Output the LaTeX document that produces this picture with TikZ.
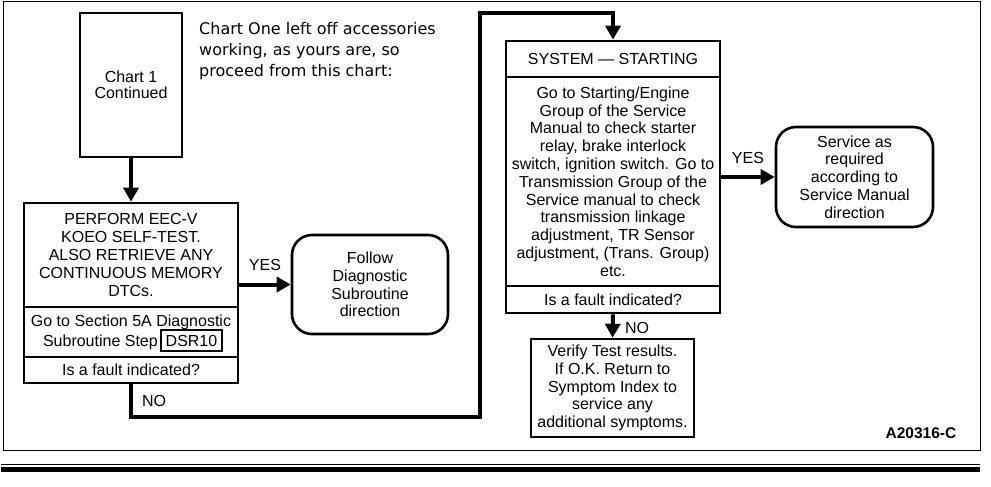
\documentclass[tikz,border=0pt]{standalone}
\usepackage{fontspec}
\setmainfont{Liberation Sans}
\newfontfamily\notefont{DejaVu Sans}
\usetikzlibrary{arrows.meta}
\tikzset{
  txt/.style={font=\fontsize{16}{17.8}\selectfont, align=center, inner sep=0pt},
  boxpart/.style={draw, line width=2.6pt, inner sep=0pt, font=\fontsize{16}{17.8}\selectfont, align=center},
  roundbox/.style={boxpart, rounded corners=20pt},
  conn/.style={line width=4pt, line join=miter, -{Triangle[length=14pt,width=15pt]}},
  lbl/.style={font=\fontsize{16}{17.8}\selectfont, inner sep=0pt}
}
\begin{document}
\begin{tikzpicture}[x=1pt,y=-1pt]
\useasboundingbox (0,0) rectangle (991,487);
% frame and bottom rules
\draw[line width=1pt] (3,2) rectangle (980,450);
\draw[line width=1pt] (1,464) -- (980,464);
\draw[line width=5.5pt] (1,469.5) -- (980,469.5);

% Chart 1
\node[boxpart, minimum width=102pt, minimum height=144pt] (chart1) at (131,85) {Chart 1\\[-1.5pt]Continued};
\node[font=\notefont\fontsize{16}{21}\selectfont, align=left, anchor=north west, inner sep=0pt] (note) at (199,22)
  {Chart One left off accessories\\working, as yours are, so\\proceed from this chart:};

% Perform box
\node[boxpart, minimum width=214pt, minimum height=104pt] (perf1) at (131,255)
  {PERFORM EEC-V\\KOEO SELF-TEST.\\ALSO RETRIEVE ANY\\CONTINUOUS MEMORY\\DTCs.};
\node[boxpart, minimum width=214pt, minimum height=50pt] (perf2) at (131,332) {};
\node[txt] (perf2a) at (131,322) {Go to Section 5A Diagnostic};
\node[txt, anchor=east] (perf2b) at (158,342) {Subroutine Step};
\node[draw, line width=2pt, minimum width=61pt, minimum height=21pt, inner sep=0pt, font=\fontsize{16}{17.8}\selectfont] (dsr) at (191.5,340.5) {DSR10};
\node[boxpart, minimum width=214pt, minimum height=26pt] (perf3) at (131,370) {Is a fault indicated?};

% Follow box
\node[roundbox, minimum width=156pt, minimum height=99pt] (follow) at (370,284.5)
  {Follow\\Diagnostic\\Subroutine\\direction};

% System box
\node[boxpart, minimum width=214pt, minimum height=36pt] (sys1) at (613,59) {SYSTEM --- STARTING};
\node[boxpart, minimum width=214pt, minimum height=209pt] (sys2) at (613,181.5)
  {Go to Starting/Engine\\Group of the Service\\Manual to check starter\\relay, brake interlock\\switch, ignition switch. Go to\\Transmission Group of the\\Service manual to check\\transmission linkage\\adjustment, TR Sensor\\adjustment, (Trans. Group)\\etc.};
\node[boxpart, minimum width=214pt, minimum height=27pt] (sys3) at (613,299.5) {Is a fault indicated?};

% Service box
\node[roundbox, minimum width=157pt, minimum height=100pt] (service) at (854.5,177)
  {Service as\\required\\according to\\Service Manual\\direction};

% Verify box
\node[boxpart, minimum width=163pt, minimum height=98pt] (verify) at (612.5,388)
  {Verify Test results.\\If O.K. Return to\\Symptom Index to\\service any\\additional symptoms.};

% figure id
\node[font=\bfseries\fontsize{15.5}{17}\selectfont, inner sep=0pt] (figid) at (921,433) {A20316-C};

% connectors
\draw[conn] (chart1.south) -- (perf1.north);
\draw[conn] (perf1.east |- follow.west) -- (follow.west);
\node[lbl] (yes1) at (265,265) {YES};

\coordinate (n1) at (480,417);
\coordinate (n2) at (480,13);
\draw[conn] (perf3.south) |- (n1) -- (n2) -| (sys1.north);
\node[lbl] (no1) at (154,401) {NO};

\draw[conn] (sys2.east |- service.west) -- (service.west);
\node[lbl] (yes2) at (748,158) {YES};

\draw[conn] (sys3.south) -- (verify.north);
\node[lbl] (no2) at (637,328) {NO};
\end{tikzpicture}
\end{document}
